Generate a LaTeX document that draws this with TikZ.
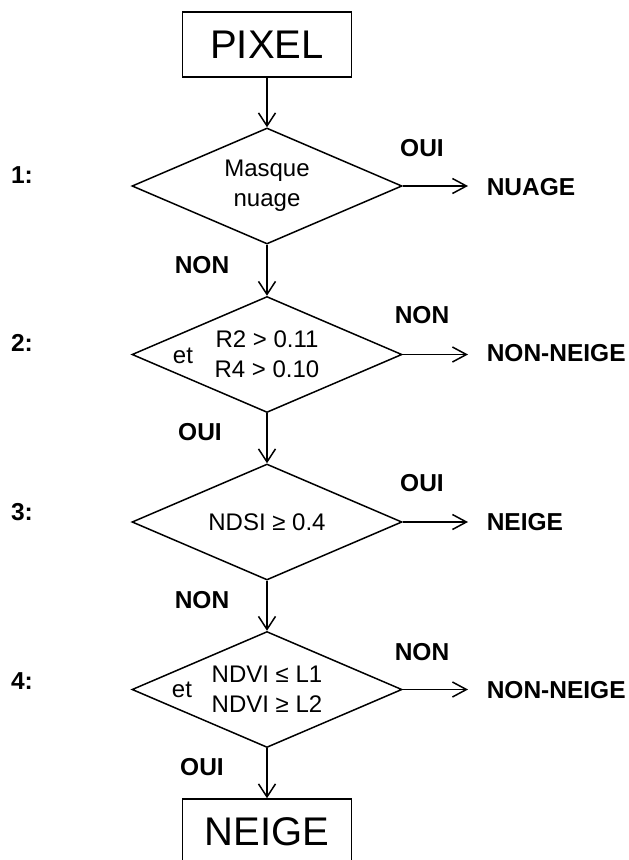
\documentclass[tikz,border=0pt]{standalone}
\usepackage{fontspec}
\setmainfont{Liberation Sans}
\usetikzlibrary{shapes.geometric,arrows.meta}
\begin{document}
\begin{tikzpicture}[x=1pt,y=-1pt,
  line width=1.5pt,
  arr/.style={-{Straight Barb[length=13pt,width=17pt]}},
  harr/.style={-{Straight Barb[length=14pt,width=15pt]}, shorten >=18pt},
  bigbox/.style={draw, rectangle, minimum width=169pt, minimum height=65pt, inner sep=0pt, font=\fontsize{40}{48}\selectfont},
  dec/.style={draw, diamond, shape aspect=2.33, minimum width=270pt, minimum height=116pt, inner sep=0pt, align=center, font=\fontsize{24}{30}\selectfont},
  lbl/.style={font=\bfseries\fontsize{24.5}{30}\selectfont, inner sep=0pt},
  txt/.style={font=\fontsize{24}{30}\selectfont, inner sep=0pt}]
\useasboundingbox (0,0) rectangle (629,860);
\clip (0,0) rectangle (629,860);

% main column
\node[bigbox] (pixel) at (267,44.5) {PIXEL};
\node[dec] (d1) at (267,186) {Masque\\nuage};
\node[dec] (d2) at (267,354.5) {R2 > 0.11\\R4 > 0.10};
\node[dec] (d3) at (267,522) {NDSI ≥ 0.4};
\node[dec] (d4) at (267,689.5) {NDVI ≤ L1\\NDVI ≥ L2};
\node[bigbox] (neige) at (267,831.5) {NEIGE};

% "et" inside diamonds
\node[txt] (et2) at (183,356) {et};
\node[txt] (et4) at (182,690) {et};

% step numbers
\node[lbl] (n1) at (22,175) {1:};
\node[lbl] (n2) at (22,343) {2:};
\node[lbl] (n3) at (22,512) {3:};
\node[lbl] (n4) at (22,681) {4:};

% outcome labels
\node[lbl, anchor=west] (r1) at (486,187) {NUAGE};
\node[lbl, anchor=west] (r2) at (486,353) {NON-NEIGE};
\node[lbl, anchor=west] (r3) at (486,522) {NEIGE};
\node[lbl, anchor=west] (r4) at (486,690) {NON-NEIGE};

% branch labels (right)
\node[lbl] (a1) at (422,148) {OUI};
\node[lbl] (a2) at (422,315) {NON};
\node[lbl] (a3) at (422,483) {OUI};
\node[lbl] (a4) at (422,652) {NON};

% branch labels (down)
\node[lbl] (b1) at (202,265) {NON};
\node[lbl] (b2) at (200,432) {OUI};
\node[lbl] (b3) at (202,600) {NON};
\node[lbl] (b4) at (202,767) {OUI};

% vertical connectors
\draw[arr] (pixel) -- (d1);
\draw[arr] (d1) -- (d2);
\draw[arr] (d2) -- (d3);
\draw[arr] (d3) -- (d4);
\draw[arr] (d4) -- (neige);

% horizontal connectors
\draw[harr] (d1.east) -- (d1.east -| r1.west);
\draw[harr] (d2.east) -- (d2.east -| r2.west);
\draw[harr] (d3.east) -- (d3.east -| r3.west);
\draw[harr] (d4.east) -- (d4.east -| r4.west);
\end{tikzpicture}
\end{document}
